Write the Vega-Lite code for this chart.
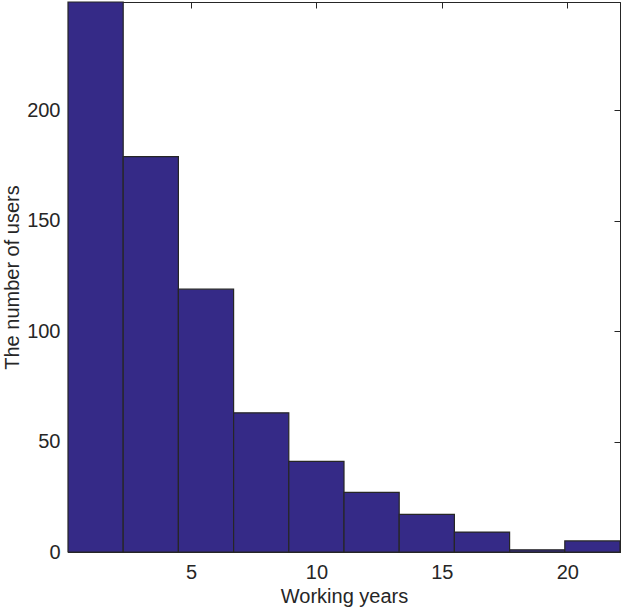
{
  "$schema": "https://vega.github.io/schema/vega-lite/v6.json",
  "width": 552,
  "height": 550,
  "autosize": {"type": "none"},
  "padding": {"left": 68, "top": 2, "right": 3, "bottom": 61},
  "background": "white",
  "config": {
    "view": {"stroke": "#262626", "strokeWidth": 1},
    "font": "Liberation Sans",
    "axis": {
      "grid": false,
      "domainColor": "#262626",
      "tickColor": "#262626",
      "labelColor": "#262626",
      "titleColor": "#262626",
      "labelFont": "Liberation Sans",
      "titleFont": "Liberation Sans",
      "labelFontSize": 20,
      "titleFontSize": 20,
      "titleFontWeight": "normal",
      "tickSize": -6,
      "labelPadding": 14
    }
  },
  "data": {
    "values": [
      {"start": 0.1, "end": 2.3, "count": 249},
      {"start": 2.3, "end": 4.5, "count": 179},
      {"start": 4.5, "end": 6.7, "count": 119},
      {"start": 6.7, "end": 8.9, "count": 63},
      {"start": 8.9, "end": 11.1, "count": 41},
      {"start": 11.1, "end": 13.3, "count": 27},
      {"start": 13.3, "end": 15.5, "count": 17},
      {"start": 15.5, "end": 17.7, "count": 9},
      {"start": 17.7, "end": 19.9, "count": 1},
      {"start": 19.9, "end": 22.1, "count": 5}
    ]
  },
  "layer": [
    {
      "mark": {"type": "rect", "fill": "#352A87", "stroke": "#262626", "strokeWidth": 1.2},
      "encoding": {
        "x": {
          "field": "start", "type": "quantitative",
          "scale": {"domain": [0.1, 22.1], "nice": false, "zero": false},
          "axis": {"orient": "bottom", "values": [5, 10, 15, 20], "title": "Working years", "titlePadding": 4, "labelPadding": 16}
        },
        "x2": {"field": "end"},
        "y": {
          "field": "count", "type": "quantitative",
          "scale": {"domain": [0, 249], "nice": false},
          "axis": {"orient": "left", "values": [0, 50, 100, 150, 200], "title": "The number of users", "titlePadding": 4, "labelPadding": 14}
        },
        "y2": {"datum": 0}
      }
    },
    {
      "mark": {"type": "point", "opacity": 0},
      "encoding": {
        "x": {
          "field": "start", "type": "quantitative",
          "axis": {"orient": "top", "values": [5, 10, 15, 20], "labels": false, "title": null}
        },
        "y": {
          "field": "count", "type": "quantitative",
          "axis": {"orient": "right", "values": [0, 50, 100, 150, 200], "labels": false, "title": null}
        }
      }
    }
  ],
  "resolve": {"axis": {"x": "independent", "y": "independent"}}
}
